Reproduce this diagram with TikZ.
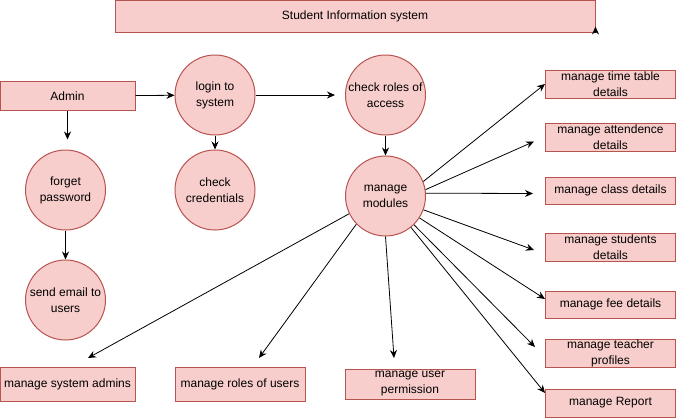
\documentclass[tikz,border=0pt]{standalone}
\usepackage{fontspec}
\setmainfont{Liberation Sans}
\usepackage{tikz}
\usetikzlibrary{arrows.meta}
\definecolor{drawred}{RGB}{184,84,80}
\definecolor{fillred}{RGB}{248,206,204}
\tikzset{
  procnode/.style={circle,draw=drawred,fill=fillred,line width=1pt,minimum size=80pt,inner sep=0pt,align=center},
  boxnode/.style={rectangle,draw=drawred,fill=fillred,line width=1pt,inner sep=0pt,align=center},
  flow/.style={line width=0.8pt,-{Stealth[length=8pt,width=7pt]}},
}

\begin{document}
\begin{tikzpicture}[x=1pt,y=-1pt,font=\fontsize{12}{16}\selectfont]
        \useasboundingbox (0,0) rectangle (676,418);
        \node (title) at (355,16) [boxnode,minimum width=480pt,minimum height=32pt] {Student Information system};
        \node (admin) at (67.5,96) [boxnode,minimum width=135pt,minimum height=29pt] {Admin};
        \node (login) at (215,95) [procnode] {login to\\system};
        \node (cred) at (215,190) [procnode] {check\\credentials};
        \node (forget) at (65.5,190) [procnode] {forget\\password};
        \node (email) at (65.5,300) [procnode] {send email to\\users};
        \node (roles) at (385.5,95) [procnode] {check roles of\\access};
        \node (modules) at (385.5,196) [procnode] {manage\\modules};
        \node (timetable) at (610.5,84) [boxnode,minimum width=130pt,minimum height=28pt] {manage time table\\details};
        \node (attend) at (610.5,137) [boxnode,minimum width=130pt,minimum height=28pt] {manage attendence\\details};
        \node (class) at (610.5,190.5) [boxnode,minimum width=130pt,minimum height=27pt] {manage class details};
        \node (students) at (610.5,247) [boxnode,minimum width=130pt,minimum height=28pt] {manage students\\details};
        \node (fee) at (610.5,304.5) [boxnode,minimum width=130pt,minimum height=27pt] {manage fee details};
        \node (teacher) at (610.5,353.5) [boxnode,minimum width=130pt,minimum height=27pt] {manage teacher\\profiles};
        \node (report) at (610.5,403) [boxnode,minimum width=130pt,minimum height=28pt] {manage Report};
        \node (sysadmins) at (67.5,384) [boxnode,minimum width=135pt,minimum height=34pt] {manage system admins};
        \node (userroles) at (240,384) [boxnode,minimum width=130pt,minimum height=34pt] {manage roles of users};
        \node (userperm) at (410,384) [boxnode,minimum width=130pt,minimum height=30pt] {manage user\\permission};
        % arrow ends left free
        \coordinate (attendin) at (534,141.5);
        \coordinate (classin) at (533,193.5);
        \coordinate (studentsin) at (534,250);
        \coordinate (feein) at (545,299);
        \coordinate (teacherin) at (535,347);
        \coordinate (reportin) at (545,393);
        \coordinate (sysadminsin) at (88,358);
        \coordinate (userrolesin) at (259,358);
        \coordinate (userpermin) at (394,358);
        \draw [flow] (title.south east) -- ++(0,-6);
        \draw [flow] (admin) -- (login);
        \draw [flow,shorten >=10pt] (login) -- (roles);
        \draw [flow,shorten >=10pt] (admin.south) -- (admin.south |- forget.north);
        \draw [flow] (forget) -- (email);
        \draw [flow] (login) -- (cred);
        \draw [flow] (roles) -- (modules);
        \draw [flow] (modules.21) -- (timetable.west);
        \draw [flow] (modules.9) -- (attendin);
        \draw [flow] (modules.4) -- (classin);
        \draw [flow] (modules.-20) -- (studentsin);
        \draw [flow] (modules) -- (feein);
        \draw [flow] (modules) -- (teacherin);
        \draw [flow] (modules) -- (reportin);
        \draw [flow] (modules.206) -- (sysadminsin);
        \draw [flow] (modules.224) -- (userrolesin);
        \draw [flow] (modules.south) -- (userpermin);
\end{tikzpicture}
\end{document}
